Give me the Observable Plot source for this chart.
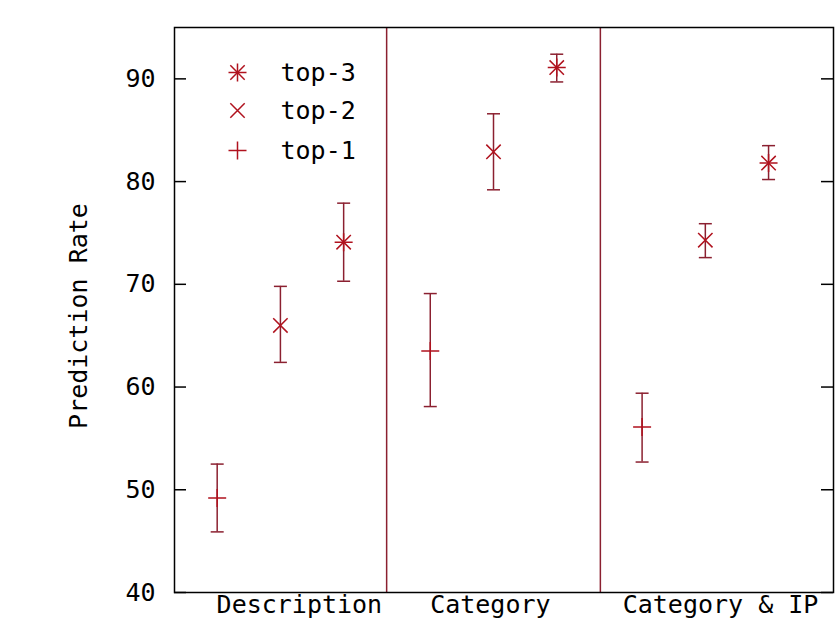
<!DOCTYPE html>
<html><head><meta charset="utf-8">
<script src="https://cdn.jsdelivr.net/npm/d3@7"></script>
<script src="https://cdn.jsdelivr.net/npm/@observablehq/plot@0.6"></script>
<style>
body{margin:0;background:#fff}
svg{font-family:"DejaVu Sans Mono",monospace}
</style>
</head><body><div id="chart"></div>
<script>
// ---- data ----
const groups = ["Description", "Category", "Category & IP"];
const series = ["top-1", "top-2", "top-3"];
const groupStart = [1, 4.37, 7.72];          // x value of first point in each group
const groupTickPos = [2.3, 5.32, 8.96];      // x tick label positions
const dividerPos = [3.68, 7.06];             // vertical separators
const yTicks = [40, 50, 60, 70, 80, 90];
// rows: group; columns: top-1, top-2, top-3
const means = [[49.2, 66.0, 74.1], [63.5, 82.9, 91.1], [56.1, 74.3, 81.8]];
const lows  = [[45.9, 62.4, 70.3], [58.1, 79.2, 89.7], [52.7, 72.6, 80.2]];
const highs = [[52.5, 69.8, 77.9], [69.1, 86.6, 92.4], [59.4, 75.9, 83.5]];

// ---- build table ----
const rows = [];
groups.forEach((g, gi) => series.forEach((s, si) => rows.push({
  group: g, series: s, x: groupStart[gi] + si,
  y: means[gi][si], lo: lows[gi][si], hi: highs[gi][si]
})));

// ---- symbols ----
const capSym = {draw(c, size){ const r = Math.sqrt(size/Math.PI); c.moveTo(-r,0); c.lineTo(r,0); }};
const plusSym = {draw(c, size){ const r = Math.sqrt(size/Math.PI); c.moveTo(-r,0); c.lineTo(r,0); c.moveTo(0,-r); c.lineTo(0,r); }};
const timesSym = {draw(c, size){ const r = Math.sqrt(size/Math.PI)*0.8; c.moveTo(-r,-r); c.lineTo(r,r); c.moveTo(-r,r); c.lineTo(r,-r); }};
const symFor = {"top-1": [plusSym], "top-2": [timesSym], "top-3": [plusSym, timesSym]};

const barColor = "#8b2030";
const markColor = "#b0121e";
const W = 837, H = 621, mL = 174, mR = 4, mT = 27, mB = 29;
const innerW = W - mL - mR;

const marks = [
  Plot.ruleX(dividerPos, {stroke: barColor, strokeWidth: 1.5}),
  // inward y ticks left & right
  Plot.tickY(yTicks, {y: d => d, insetRight: innerW - 12, stroke: "black", strokeWidth: 1.5}),
  Plot.tickY(yTicks, {y: d => d, insetLeft: innerW - 12, stroke: "black", strokeWidth: 1.5}),
  // error bars
  Plot.ruleX(rows, {x: "x", y1: "lo", y2: "hi", stroke: barColor, strokeWidth: 1.5}),
  Plot.dot(rows, {x: "x", y: "lo", symbol: capSym, r: 6.5, fill: "none", stroke: barColor, strokeWidth: 1.5}),
  Plot.dot(rows, {x: "x", y: "hi", symbol: capSym, r: 6.5, fill: "none", stroke: barColor, strokeWidth: 1.5}),
];
// markers
series.forEach(s => symFor[s].forEach(sym => marks.push(
  Plot.dot(rows.filter(d => d.series === s), {x: "x", y: "y", symbol: sym, r: 9, fill: "none", stroke: markColor, strokeWidth: 1.5})
)));
// legend (top-3, top-2, top-1)
const legendOrder = ["top-3", "top-2", "top-1"];
const legendDy = [45, 83, 123];
legendOrder.forEach((s, i) => {
  symFor[s].forEach(sym => marks.push(
    Plot.dot([s], {frameAnchor: "top-left", dx: 63, dy: legendDy[i], symbol: sym, r: 9, fill: "none", stroke: markColor, strokeWidth: 1.5})
  ));
  marks.push(Plot.text([s], {frameAnchor: "top-left", dx: 106, dy: legendDy[i], textAnchor: "start", lineAnchor: "middle", fontSize: 25, fill: "black"}));
});
marks.push(
  Plot.axisY(yTicks, {tickSize: 0, tickPadding: 19, fontSize: 25, label: null}),
  Plot.axisX(groupTickPos, {tickSize: 0, tickPadding: 3, fontSize: 25, label: null,
    tickFormat: d => groups[groupTickPos.indexOf(d)]}),
  Plot.text(["Prediction Rate"], {frameAnchor: "left", rotate: -90, dx: -96, dy: 6, textAnchor: "middle", lineAnchor: "middle", fontSize: 25, fill: "black"}),
  Plot.frame({stroke: "black", strokeWidth: 1.5})
);

const chart = Plot.plot({
  width: W, height: H,
  marginLeft: mL, marginRight: mR, marginTop: mT, marginBottom: mB,
  style: {fontFamily: "DejaVu Sans Mono", fontSize: "25px", background: "white", color: "black"},
  x: {domain: [0.325, 10.747]},
  y: {domain: [40, 95]},
  marks
});
document.getElementById("chart").appendChild(chart);
</script>
</body></html>
